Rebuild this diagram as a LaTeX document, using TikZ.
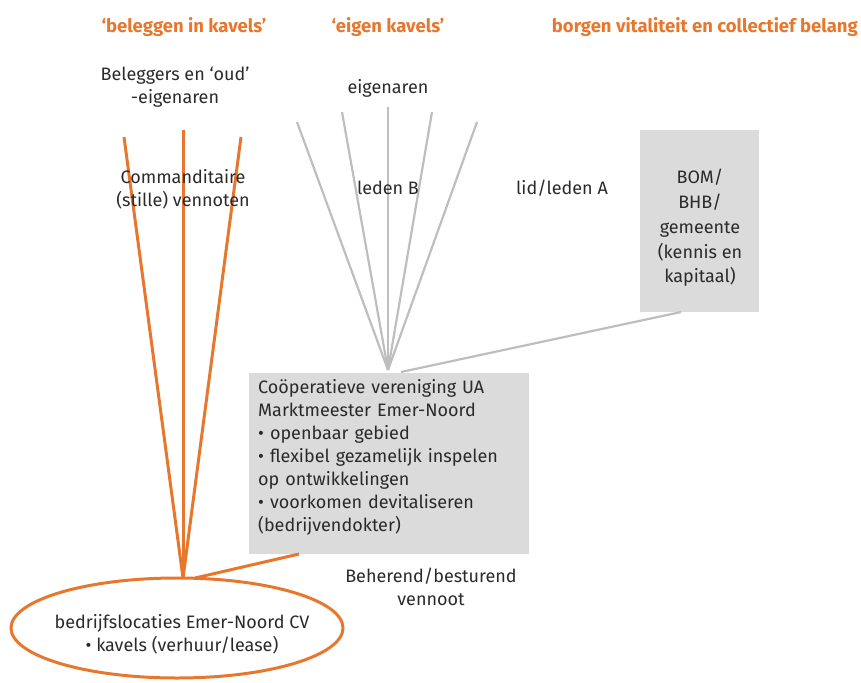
\documentclass[tikz,border=0pt]{standalone}
\usepackage{fontspec}
\setmainfont{Fira Sans}
\usetikzlibrary{shapes.geometric}
\definecolor{dorange}{HTML}{E8772E}
\definecolor{lgrey}{HTML}{BEBEBE}
\definecolor{boxgrey}{HTML}{DBDBDC}
\definecolor{ink}{HTML}{2A2A2A}
\tikzset{
  heading/.style={text=dorange, font=\fontsize{18.5}{22}\selectfont\bfseries, inner sep=0pt},
  lbl/.style={text=ink, font=\fontsize{18}{23}\selectfont, inner sep=0pt, align=center},
  orangeline/.style={draw=dorange, line width=3pt},
  greyline/.style={draw=lgrey, line width=2.2pt},
  greybox/.style={fill=boxgrey, draw=none, inner sep=0pt}
}
\begin{document}
\begin{tikzpicture}[x=1pt,y=-1pt]
\useasboundingbox (0,0) rectangle (861,682);
% headings
\node[heading] (h1) at (184,27) {‘beleggen in kavels’};
\node[heading] (h2) at (388,27) {‘eigen kavels’};
\node[heading, anchor=east] (h3) at (858,27) {borgen vitaliteit en collectief belang};
% boxes
\node[greybox, minimum width=280pt, minimum height=181pt] (coop) at (389,463) {};
\node[lbl, align=left, anchor=north west, text width=270pt] (cooptext) at (258,379)
 {Coöperatieve vereniging UA\\Marktmeester Emer-Noord\\• openbaar gebied\\• flexibel gezamelijk inspelen\\op ontwikkelingen\\• voorkomen devitaliseren\\(bedrijvendokter)};
\node[greybox, minimum width=119pt, minimum height=182pt] (bom) at (699.5,221) {};
\node[lbl, font=\fontsize{18}{24.8}\selectfont] (bomtext) at (700,228) {BOM/\\BHB/\\gemeente\\(kennis en\\kapitaal)};
% ellipse
\node[ellipse, draw=dorange, line width=3pt, minimum width=332pt, minimum height=100pt] (cv) at (177,628) {};
\node[lbl] (cvtext) at (182,634) {bedrijfslocaties Emer-Noord CV\\• kavels (verhuur/lease)};
% coordinates
\coordinate (o1) at (124,137);
\coordinate (o2) at (183,130);
\coordinate (o3) at (241,137);
\coordinate (otip) at (183,578);
\coordinate (g1) at (297,122);
\coordinate (g2) at (342,112);
\coordinate (g3) at (388,107);
\coordinate (g4) at (432,112);
\coordinate (g5) at (477,122);
\coordinate (gtip) at (388,370);
\coordinate (bomfoot) at (681,312);
\coordinate (coopfoot) at (401,372);
\coordinate (coopbot) at (299,554);
\coordinate (cvtop) at (195,578);
% lines
\foreach \c in {o1,o2,o3} \draw[orangeline] (\c) -- (otip);
\foreach \c in {g1,g2,g3,g4,g5} \draw[greyline] (\c) -- (gtip);
\draw[greyline] (bomfoot) -- (coopfoot);
\draw[orangeline] (coopbot) -- (cvtop);
% labels
\node[lbl] (bel) at (175,87) {Beleggers en ‘oud’\\-eigenaren};
\node[lbl] (eig) at (388,88) {eigenaren};
\node[lbl] (comm) at (183,189) {Commanditaire\\(stille) vennoten};
\node[lbl] (ledenb) at (388,188) {leden B};
\node[lbl] (ledena) at (562,188) {lid/leden A};
\node[lbl] (beh) at (431,587) {Beherend/besturend\\vennoot};
\end{tikzpicture}
\end{document}
